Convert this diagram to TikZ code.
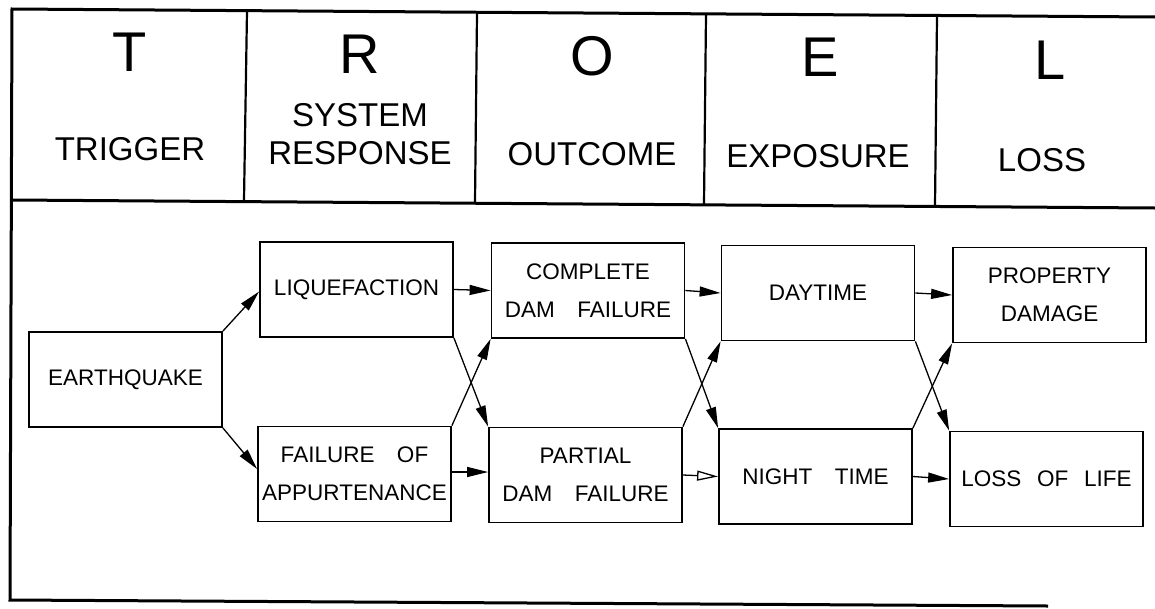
\documentclass[tikz,border=0pt]{standalone}
\usepackage{fontspec}
\setmainfont{Liberation Sans}
\usetikzlibrary{arrows.meta}
\begin{document}
\begin{tikzpicture}[x=1pt,y=-1pt,
  box/.style={draw,line width=1.8pt,minimum width=193pt,minimum height=95pt,inner sep=0pt,align=center,font=\fontsize{22.5}{38}\selectfont},
  big/.style={font=\fontsize{56}{60}\selectfont,inner sep=0pt},
  hdr/.style={font=\fontsize{33}{38}\selectfont,inner sep=0pt,align=center},
  frame/.style={line width=3pt},
  divider/.style={line width=2.2pt},
  arr/.style={line width=1.3pt,-{Triangle[length=21pt,width=10pt]}},
  oarr/.style={line width=1.3pt,-{Triangle[open,length=21pt,width=10pt]}}]
\useasboundingbox (0,0) rectangle (1155,608);

% frame
\draw[frame] (1155,17) -- (12,9) -- (10,600) -- (1048,606);
\draw[frame] (12,200) -- (1155,208);
\draw[divider] (247,11) -- (244,200);
\draw[divider] (477,13) -- (475,202);
\draw[divider] (706,14) -- (704,204);
\draw[divider] (937,16) -- (935,206);

% header
\node[big] (lT) at (130,52) {T};
\node[big] (lR) at (360,54) {R};
\node[big] (lO) at (592,56) {O};
\node[big] (lE) at (820,57) {E};
\node[big] (lL) at (1050,60) {L};
\node[hdr] (hT) at (130,149) {TRIGGER};
\node[hdr] (hR) at (360,134) {SYSTEM\\RESPONSE};
\node[hdr] (hO) at (592,154) {OUTCOME};
\node[hdr] (hE) at (818,156) {EXPOSURE};
\node[hdr] (hL) at (1042,160) {LOSS};

% boxes
\node[box] (eq) at (125.5,379.5) {EARTHQUAKE};
\node[box] (liq) at (356.5,289.5) {LIQUEFACTION};
\node[box] (app) at (354.5,474) {FAILURE\hspace{1em}OF\\APPURTENANCE};
\node[box] (cdf) at (588,290.5) {COMPLETE\\DAM\hspace{1em}FAILURE};
\node[box] (pdf) at (585.5,475) {PARTIAL\\DAM\hspace{1em}FAILURE};
\node[box] (day) at (818,293) {DAYTIME};
\node[box] (night) at (815.5,476.5) {NIGHT\hspace{1em}TIME};
\node[box] (prop) at (1049.5,295) {PROPERTY\\DAMAGE};
\node[box] (life) at (1046.5,479) {LOSS\hspace{0.7em}OF\hspace{0.7em}LIFE};

% arrows
\draw[arr] (eq.north east) -- ([yshift=-2pt]liq.west);
\draw[arr] (eq.south east) -- ([yshift=5pt]app.west);
\draw[arr] (liq.east) -- (cdf.west);
\draw[arr] (liq.south east) -- (pdf.north west);
\draw[arr] (app.north east) -- (cdf.south west);
\draw[arr] ([yshift=2pt]app.east) -- ([yshift=3pt]pdf.west);
\draw[arr] (cdf.east) -- (day.west);
\draw[arr] (cdf.south east) -- (night.north west);
\draw[arr] (pdf.north east) -- (day.south west);
\draw[oarr] (pdf.east) -- (night.west);
\draw[arr] (day.east) -- (prop.west);
\draw[arr] (day.south east) -- (life.north west);
\draw[arr] (night.north east) -- (prop.south west);
\draw[arr] (night.east) -- (life.west);
\end{tikzpicture}
\end{document}
